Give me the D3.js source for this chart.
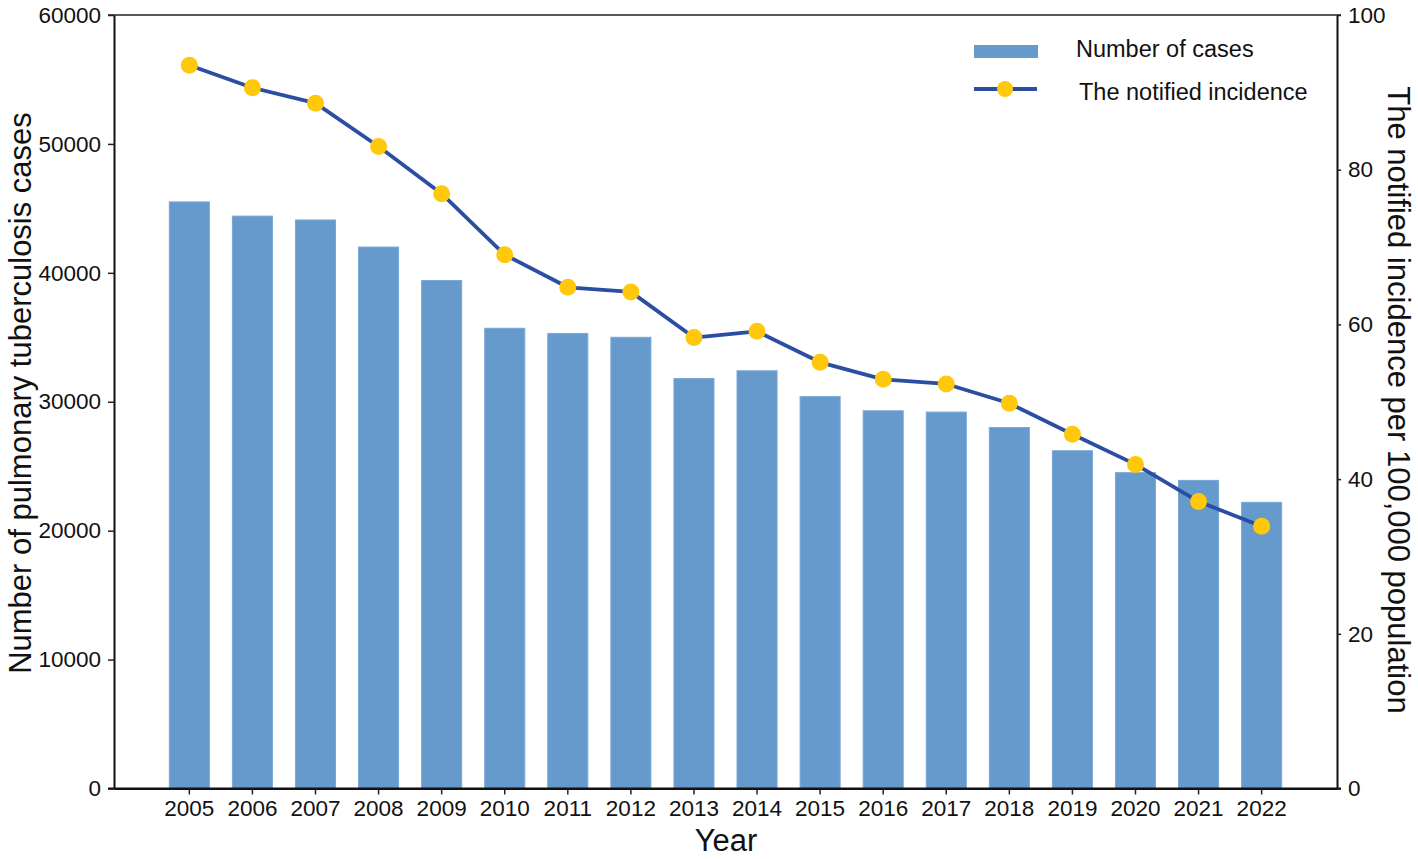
<!DOCTYPE html>
<html>
<head>
<meta charset="utf-8">
<script src="https://cdn.jsdelivr.net/npm/d3@7"></script>
<style>
  body { margin: 0; background: #fff; }
  svg { display: block; font-family: "Liberation Sans", Arial, sans-serif; }
</style>
</head>
<body>
<svg id="chart" width="1418" height="859"></svg>
<script>
const years = ["2005","2006","2007","2008","2009","2010","2011","2012","2013","2014","2015","2016","2017","2018","2019","2020","2021","2022"];
const cases = [45500,44400,44100,42000,39400,35700,35300,35000,31800,32400,30400,29300,29200,28000,26200,24500,23900,22200];
const incidence = [93.5,90.6,88.6,83.0,76.9,69.0,64.8,64.2,58.3,59.1,55.1,52.9,52.3,49.8,45.8,41.9,37.1,33.9];
const leftTicks = [0,10000,20000,30000,40000,50000,60000];
const rightTicks = [0,20,40,60,80,100];
const legendLabels = ["Number of cases","The notified incidence"];
const titles = { x: "Year", yLeft: "Number of pulmonary tuberculosis cases", yRight: "The notified incidence per 100,000 population" };

const barColor = "#6699cc", lineColor = "#2b4ea2", dotColor = "#ffc80a";
const m = { left: 114, right: 1337, top: 15, bottom: 788.5 };
const svg = d3.select("#chart");

const x = d3.scaleBand().domain(years).range([m.left, m.right]).paddingInner(0.365).paddingOuter(0.877);
const yL = d3.scaleLinear().domain([0, 60000]).range([m.bottom, m.top]);
const yR = d3.scaleLinear().domain([0, 100]).range([m.bottom, m.top]);

// bars
svg.append("g").selectAll("rect").data(years).join("rect")
  .attr("x", d => x(d)).attr("width", x.bandwidth())
  .attr("y", (d, i) => yL(cases[i])).attr("height", (d, i) => m.bottom - yL(cases[i]))
  .attr("fill", barColor).attr("stroke", "#7aa7d6").attr("stroke-width", 1);

// line
const cx = d => x(d) + x.bandwidth() / 2;
svg.append("path")
  .datum(years)
  .attr("d", d3.line().x(d => cx(d)).y((d, i) => yR(incidence[i])).curve(d3.curveLinear))
  .attr("fill", "none").attr("stroke", lineColor).attr("stroke-width", 3.8).attr("stroke-linejoin", "round");
svg.append("g").selectAll("circle").data(years).join("circle")
  .attr("cx", d => cx(d)).attr("cy", (d, i) => yR(incidence[i])).attr("r", 8.5)
  .attr("fill", dotColor);

// axes
const fs = 22.5;
const gL = svg.append("g").attr("transform", `translate(${m.left},0)`)
  .call(d3.axisLeft(yL).tickValues(leftTicks).tickFormat(d3.format("d")).tickSize(6).tickSizeOuter(0).tickPadding(7));
const gR = svg.append("g").attr("transform", `translate(${m.right},0)`)
  .call(d3.axisRight(yR).tickValues(rightTicks).tickSize(4).tickSizeOuter(0).tickPadding(7));
const gB = svg.append("g").attr("transform", `translate(0,${m.bottom})`)
  .call(d3.axisBottom(x).tickSize(6).tickSizeOuter(0).tickPadding(6));
[gL, gR, gB].forEach(g => {
  g.selectAll("text").attr("font-size", fs).attr("fill", "#111").attr("font-family", "Liberation Sans, Arial, sans-serif");
  g.selectAll(".tick line").attr("stroke", "#222").attr("stroke-width", 1.5);
  g.select(".domain").attr("stroke", "#111").attr("stroke-width", 2);
});
// top frame line
svg.append("line").attr("x1", m.left - 6).attr("x2", m.right + 4).attr("y1", m.top).attr("y2", m.top)
  .attr("stroke", "#222").attr("stroke-width", 1.5);
// extend bottom line to both sides
svg.append("line").attr("x1", m.left - 6).attr("x2", m.right + 4).attr("y1", m.bottom).attr("y2", m.bottom)
  .attr("stroke", "#111").attr("stroke-width", 2);

// titles
svg.append("text").attr("x", 726).attr("y", 851).attr("text-anchor", "middle").attr("font-size", 31).attr("fill", "#111").text(titles.x);
svg.append("text").attr("transform", "translate(31,393) rotate(-90)").attr("text-anchor", "middle").attr("font-size", 31).attr("fill", "#111").text(titles.yLeft);
svg.append("text").attr("transform", "translate(1388,400) rotate(90)").attr("text-anchor", "middle").attr("font-size", 31).attr("fill", "#111").text(titles.yRight);

// legend
const lg = svg.append("g");
lg.append("rect").attr("x", 974).attr("y", 45).attr("width", 64).attr("height", 13).attr("fill", barColor);
lg.append("text").attr("x", 1076).attr("y", 57).attr("font-size", 23.5).attr("fill", "#111").text(legendLabels[0]);
lg.append("line").attr("x1", 974).attr("x2", 1037).attr("y1", 89).attr("y2", 89).attr("stroke", lineColor).attr("stroke-width", 4);
lg.append("circle").attr("cx", 1005).attr("cy", 89).attr("r", 8).attr("fill", dotColor);
lg.append("text").attr("x", 1079).attr("y", 100).attr("font-size", 23.5).attr("fill", "#111").text(legendLabels[1]);
</script>
</body>
</html>
